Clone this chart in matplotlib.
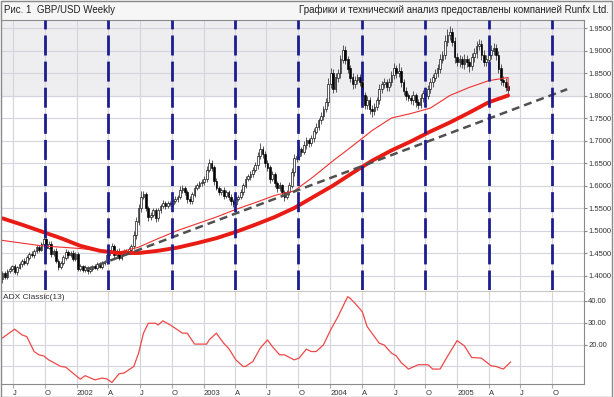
import numpy as np
import pandas as pd
import matplotlib
matplotlib.use("Agg")
import matplotlib.pyplot as plt
from matplotlib.patches import Rectangle

plt.rcParams['font.family'] = ['Liberation Sans Narrow', 'Liberation Sans', 'DejaVu Sans']

# weekly candles, first week = 1 Jun 2001
start = pd.Timestamp("2001-06-01")
first_open = 1.392
closes = [
    1.405, 1.398, 1.410, 1.415,
    1.420, 1.408, 1.418, 1.425, 1.432, 1.428, 1.440, 1.448, 1.445, 1.455, 1.462, 1.458, 1.470,
    1.480, 1.462, 1.470, 1.448, 1.455, 1.432, 1.420, 1.428, 1.440, 1.452, 1.445, 1.450, 1.438,
    1.448, 1.415, 1.420, 1.412, 1.418, 1.410, 1.415, 1.420, 1.418, 1.425, 1.420, 1.428, 1.430,
    1.445, 1.455, 1.465, 1.445, 1.455, 1.440, 1.450, 1.455, 1.452, 1.458, 1.465, 1.490, 1.520,
    1.550, 1.575, 1.580, 1.550, 1.530, 1.535, 1.545, 1.528, 1.545, 1.555, 1.560, 1.555, 1.560,
    1.560, 1.565, 1.570, 1.575, 1.590, 1.595, 1.585, 1.570, 1.565, 1.580, 1.595, 1.600, 1.605,
    1.608, 1.615, 1.635, 1.650, 1.640, 1.610, 1.595, 1.585, 1.590, 1.578, 1.585, 1.575, 1.565,
    1.560, 1.570, 1.575, 1.585, 1.600, 1.615, 1.620, 1.625, 1.635, 1.645, 1.665, 1.680, 1.670,
    1.650, 1.640, 1.615, 1.625, 1.605, 1.595, 1.600, 1.585, 1.575, 1.585, 1.600, 1.630, 1.660,
    1.665, 1.680, 1.675, 1.690, 1.700, 1.695, 1.705, 1.720, 1.730, 1.745, 1.755, 1.770, 1.785,
    1.825, 1.850, 1.815, 1.840, 1.850, 1.880, 1.900, 1.880, 1.860, 1.840, 1.825, 1.835, 1.840,
    1.830, 1.800, 1.780, 1.790, 1.770, 1.765, 1.775, 1.790, 1.815, 1.825, 1.830, 1.820, 1.830,
    1.845, 1.860, 1.850, 1.855, 1.830, 1.810, 1.800, 1.795, 1.790, 1.800, 1.785, 1.780, 1.795,
    1.805, 1.800, 1.815, 1.830, 1.840, 1.850, 1.860, 1.880, 1.890, 1.920, 1.935, 1.940, 1.920,
    1.885, 1.875, 1.880, 1.870, 1.880, 1.875, 1.865, 1.885, 1.895, 1.910, 1.915, 1.890, 1.875,
    1.880, 1.890, 1.900, 1.905, 1.890, 1.860, 1.835, 1.830, 1.820, 1.812,
]
# wick lengths in pips above the body / below the body
wick_hi = [
    60, 50, 40, 50,
    40, 60, 30, 50, 40, 60, 50, 40, 70, 40, 50, 60, 50,
    100, 50, 60, 70, 40, 60, 50, 40, 50, 60, 40, 50, 60,
    50, 40, 50, 40, 60, 40, 50, 30, 50, 40, 60, 40, 50,
    60, 50, 70, 40, 50, 60, 40, 50, 40, 60, 50, 80, 90,
    100, 120, 80, 60, 50, 70, 60, 50, 60, 40, 70, 50, 60,
    50, 40, 60, 50, 80, 60, 50, 40, 60, 50, 70, 60, 50,
    60, 70, 80, 100, 60, 50, 60, 40, 50, 60, 40, 50, 60,
    50, 60, 40, 70, 50, 60, 50, 70, 60, 80, 90, 150, 80,
    70, 60, 50, 80, 60, 50, 70, 40, 50, 60, 70, 80, 90,
    80, 70, 60, 90, 70, 60, 80, 70, 90, 60, 80, 70, 90,
    150, 120, 80, 90, 100, 110, 120, 90, 80, 70, 100, 90, 80,
    70, 90, 80, 100, 60, 80, 90, 70, 100, 80, 90, 70, 80,
    100, 120, 80, 170, 90, 70, 80, 60, 70, 90, 60, 80, 90,
    80, 70, 90, 100, 80, 90, 110, 120, 100, 140, 120, 150, 100,
    110, 90, 100, 80, 120, 90, 80, 100, 110, 120, 100, 90, 110,
    100, 90, 120, 110, 90, 80, 100, 90, 80, 70,
]
wick_lo = [
    80, 60, 50, 40,
    50, 40, 60, 40, 50, 40, 50, 60, 40, 50, 40, 60, 40,
    60, 50, 40, 60, 50, 40, 70, 50, 40, 60, 50, 40, 60,
    50, 60, 40, 50, 40, 60, 40, 50, 40, 50, 40, 60, 50,
    50, 60, 40, 70, 50, 60, 50, 40, 60, 40, 50, 60, 80,
    70, 80, 60, 70, 80, 60, 50, 90, 60, 50, 60, 70, 50,
    60, 50, 40, 60, 50, 60, 70, 80, 60, 50, 60, 50, 60,
    50, 60, 70, 60, 70, 80, 60, 70, 60, 70, 60, 70, 80,
    70, 60, 50, 60, 70, 50, 60, 70, 60, 50, 80, 70, 90,
    80, 70, 90, 60, 80, 90, 70, 80, 100, 60, 70, 60, 80,
    70, 80, 90, 60, 80, 90, 70, 80, 60, 70, 80, 90, 70,
    80, 90, 100, 80, 90, 100, 80, 110, 90, 100, 110, 90, 100,
    90, 100, 110, 90, 100, 130, 90, 80, 90, 100, 80, 90, 100,
    80, 90, 100, 80, 110, 90, 100, 80, 90, 100, 110, 90, 80,
    90, 100, 80, 90, 100, 80, 90, 100, 80, 90, 100, 110, 100,
    120, 100, 110, 90, 100, 110, 120, 90, 100, 110, 90, 120, 100,
    90, 100, 80, 90, 110, 100, 120, 90, 100, 80,
]

# moving averages, read every 8 weeks
ma_weeks = list(range(0, 209, 8))
ma_slow = [1.527, 1.513, 1.498, 1.483, 1.466, 1.455, 1.450, 1.450, 1.455,
           1.462, 1.472, 1.483, 1.497, 1.513, 1.530, 1.550, 1.575, 1.600,
           1.628, 1.655, 1.678, 1.698, 1.720, 1.740, 1.762, 1.785, 1.800]
ma_fast = [1.478, 1.472, 1.466, 1.463, 1.460, 1.455, 1.452, 1.463, 1.482,
           1.500, 1.515, 1.530, 1.547, 1.562, 1.578, 1.588, 1.620, 1.655,
           1.688, 1.722, 1.750, 1.760, 1.772, 1.800, 1.818, 1.833, 1.840]
ma_fast_last = 1.812

trend_dates = ["2002-01-27", "2005-11-13"]
trend_vals = [1.413, 1.814]

adx_weeks = [0, 5, 8, 10, 13, 15, 17, 19, 24, 26, 32, 34, 38, 41, 43, 45, 48, 50,
             54, 56, 58, 60, 63, 64, 66, 69, 70, 74, 76, 79, 84, 85, 88, 89, 91,
             93, 96, 99, 100, 103, 106, 109, 111, 114, 116, 120, 122, 125, 127,
             129, 132, 135, 138, 140, 142, 143, 145, 148, 150, 153, 155, 157,
             160, 162, 164, 167, 171, 175, 177, 180, 183, 187, 190, 191, 193,
             197, 201, 203, 206, 209]
adx_vals = [23.0, 27.0, 24.4, 23.6, 16.8, 15.3, 14.8, 13.0, 10.0, 9.7, 4.2, 5.8,
            3.9, 4.7, 4.3, 2.7, 6.7, 7.0, 10.0, 16.1, 25.2, 29.7, 29.7, 28.9,
            30.8, 28.9, 28.2, 25.2, 25.2, 20.2, 20.2, 22.1, 25.2, 23.6, 20.6,
            18.3, 13.0, 10.0, 10.0, 12.3, 18.3, 22.1, 19.1, 15.3, 15.3, 13.0,
            13.8, 17.9, 16.8, 16.8, 19.8, 26.7, 32.7, 37.3, 41.8, 41.1, 38.8,
            35.0, 28.2, 23.6, 20.6, 19.8, 16.1, 14.8, 11.8, 8.8, 10.8, 10.8,
            8.8, 8.8, 14.5, 21.8, 19.4, 17.6, 14.1, 13.8, 10.3, 10.0, 8.8, 12.0]

price_ticks = [1.40, 1.45, 1.50, 1.55, 1.60, 1.65, 1.70, 1.75, 1.80, 1.85, 1.90, 1.95]
adx_ticks = [20, 30, 40]


def week_of(d):
    return (pd.Timestamp(d) - start).days / 7.0


closes = np.array(closes)
opens = np.r_[first_open, closes[:-1]]
highs = np.maximum(opens, closes) + np.array(wick_hi) / 1e4
lows = np.minimum(opens, closes) - np.array(wick_lo) / 1e4
x = np.arange(len(closes))

quarters = pd.date_range("2001-07-01", "2005-10-01", freq="QS")
q_pos = [week_of(q) for q in quarters]
q_lab = [str(q.year) if q.month == 1 else {4: 'A', 7: 'J', 10: 'O'}[q.month] for q in quarters]
half_pos = [week_of(q) for q in quarters if q.month in (4, 10)]

xmin, xmax = -0.62, 239.2
grid_c = '#d4d4dc'
blue = '#1c1c8e'

fig = plt.figure(figsize=(6.14, 3.97), dpi=100)
fig.patch.set_facecolor('white')
fig.patches.append(Rectangle((0, 0.9496), 1, 0.0504, transform=fig.transFigure,
                             facecolor='#f6f6f6', edgecolor='none', zorder=-5))
fig.patches.append(Rectangle((0.001, 0.001), 0.996, 0.997, transform=fig.transFigure,
                             fill=False, edgecolor='#8a8a8a', lw=1))

ax = fig.add_axes([0.0016, 0.2695, 0.9495, 0.6801])
adx = fig.add_axes([0.0016, 0.0327, 0.9495, 0.2343])

# --- price panel
ax.set_xlim(xmin, xmax)
ax.set_ylim(1.3678, 1.9678)
ax.axhspan(1.80, 1.9678, color='#eeeef1', zorder=0)
for p in price_ticks:
    ax.axhline(p, color=grid_c, lw=0.8, zorder=1)
for q in q_pos:
    ax.axvline(q, color=grid_c, lw=0.8, zorder=1)
for q in half_pos:
    ax.axvline(q, color=blue, lw=2.0, dashes=(7.2, 2.2), zorder=6)

ax.plot(ma_weeks + [ma_weeks[-1]], ma_fast + [ma_fast_last], color='#f03030', lw=0.8, zorder=4)
ax.plot(ma_weeks, ma_slow, color='#e81c14', lw=2.8, zorder=4, solid_capstyle='round')
ax.plot([week_of(d) for d in trend_dates], trend_vals, color='#505050', lw=1.8,
        dashes=(3.2, 2.0), zorder=4)

ax.vlines(x, lows, highs, color='#404040', lw=0.6, zorder=3)
up = closes >= opens
ax.bar(x, np.abs(closes - opens) + 0.0008, bottom=np.minimum(opens, closes) - 0.0004,
       width=0.7, color=np.where(up, 'white', 'black'), edgecolor='black', lw=0.45, zorder=3)

ax.yaxis.tick_right()
ax.set_yticks(price_ticks)
ax.set_yticklabels([f"{p:.4f}" for p in price_ticks])
ax.tick_params(axis='y', length=2, color='#888888', labelsize=5.5, labelcolor='#333333', pad=1)
ax.set_xticks([])
for s in ['left', 'bottom']:
    ax.spines[s].set_visible(False)
ax.spines['top'].set_color('#8a8a8a')
ax.spines['right'].set_color('#8a8a8a')

# --- ADX panel
adx.set_xlim(xmin, xmax)
adx.set_ylim(2.0, 44.4)
for v in [10, 20, 30, 40]:
    adx.axhline(v, color=grid_c, lw=0.8, zorder=1)
for q in q_pos:
    adx.axvline(q, color=grid_c, lw=0.8, zorder=1)
adx.plot(adx_weeks, adx_vals, color='#f04848', lw=0.9, zorder=3)
adx.text(0.004, 0.97, "ADX Classic(13)", transform=adx.transAxes, ha='left', va='top',
         fontsize=6, color='#333333')
adx.yaxis.tick_right()
adx.set_yticks(adx_ticks)
adx.set_yticklabels([f"{v:.2f}" for v in adx_ticks])
adx.tick_params(axis='y', length=2, color='#888888', labelsize=5.5, labelcolor='#333333', pad=1)
adx.set_xticks(q_pos)
adx.set_xticklabels(q_lab, ha='left')
adx.tick_params(axis='x', length=3, color='#aaaaaa', labelsize=5.5, labelcolor='#333333', pad=1)
adx.spines['left'].set_visible(False)
adx.spines['top'].set_color('#c8c8c8')
adx.spines['right'].set_color('#8a8a8a')
adx.spines['bottom'].set_color('#8a8a8a')

fig.text(0.006, 0.975, "Рис. 1  GBP/USD Weekly", ha='left', va='center', fontsize=7, color='#222222')
fig.text(0.991, 0.975, "Графики и технический анализ предоставлены компанией Runfx Ltd.",
         ha='right', va='center', fontsize=7, color='#222222')

fig.savefig("out.png", dpi=100)
